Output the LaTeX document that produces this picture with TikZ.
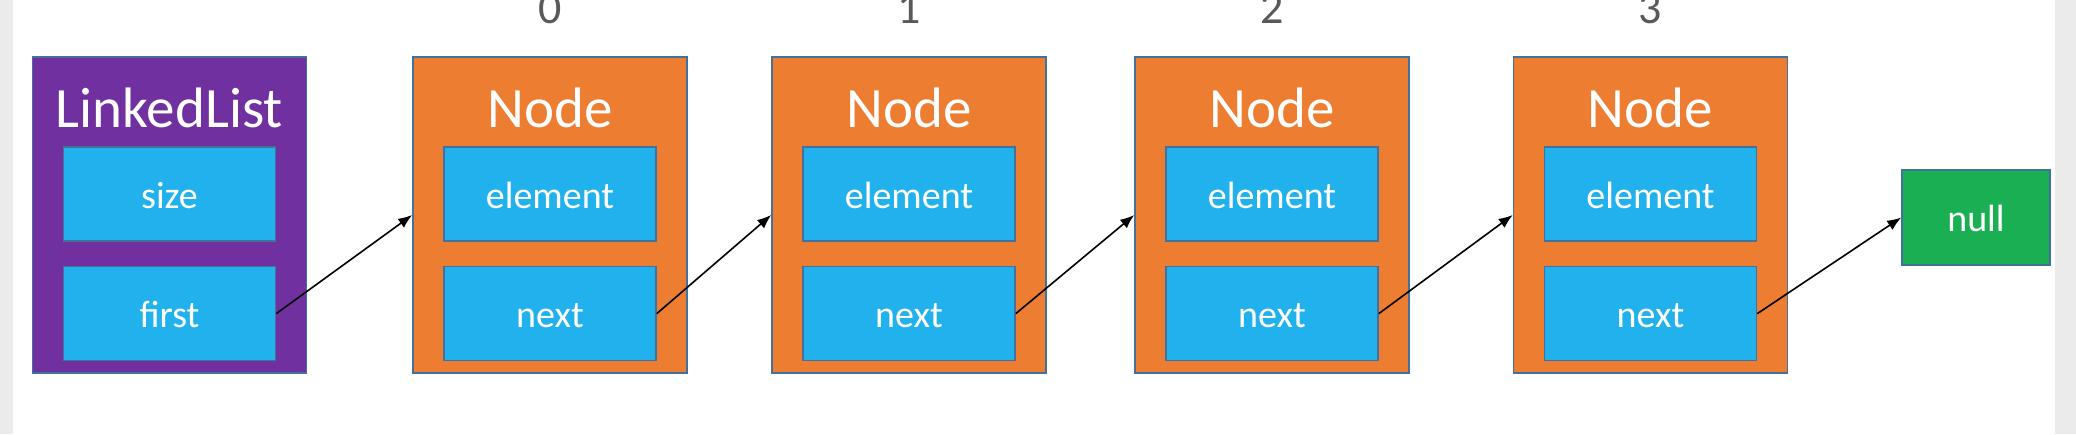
\documentclass[tikz,border=0pt]{standalone}
\usepackage{fontspec}
\setmainfont{Carlito}
\usetikzlibrary{positioning,arrows.meta}

\definecolor{listpurple}{HTML}{7030A0}
\definecolor{nodeorange}{HTML}{ED7D31}
\definecolor{fieldblue}{HTML}{21B1EC}
\definecolor{nullgreen}{HTML}{1BAF53}
\definecolor{boxline}{HTML}{41719C}
\definecolor{idxgray}{HTML}{595959}
\definecolor{margingray}{HTML}{EBEBEB}

\tikzset{
  outerbox/.style={draw=boxline,line width=0.8pt,minimum width=137pt,minimum height=158pt,inner sep=0pt},
  fieldbox/.style={draw=boxline,line width=0.8pt,fill=fieldblue,minimum width=106pt,minimum height=47pt,
    inner sep=0pt,text=white,font=\fontsize{19}{19}\selectfont,text height=14pt,text depth=0pt},
  titletext/.style={text=white,font=\fontsize{28.5}{28.5}\selectfont,anchor=base,inner sep=0pt},
  indextext/.style={text=idxgray,font=\fontsize{23}{23}\selectfont,anchor=base,inner sep=0pt},
  ptr/.style={-{Latex[length=7pt,width=5.5pt]},line width=0.8pt}
}

\begin{document}
\begin{tikzpicture}[x=0.5pt,y=-0.5pt]

\fill[margingray] (0,0) rectangle (13,434);
\fill[margingray] (2055,0) rectangle (2076,434);
\useasboundingbox (0,0) rectangle (2076,434);

% the list object
\node[outerbox,fill=listpurple] (list) at (169.5,215) {};
\node[titletext] (listtitle) at (169.5,127) {LinkedList};
\node[fieldbox,below=45pt of list.north] (size) {size};
\node[fieldbox,below=12pt of size] (first) {first};

% the nodes
\foreach \i/\cx in {0/550,1/909,2/1272,3/1650.5} {
  \node[outerbox,fill=nodeorange] (n\i) at (\cx,215) {};
  \node[titletext] (t\i) at (\cx,127) {Node};
  \node[indextext] (k\i) at (\cx,23) {\i};
  \node[fieldbox,below=45pt of n\i.north] (e\i) {element};
  \node[fieldbox,below=12pt of e\i] (x\i) {next};
}

\node[fieldbox,fill=nullgreen,minimum width=74pt,minimum height=47.5pt] (null) at (1976,217.5) {null};

\draw[ptr] (first.east) -- (n0.west);
\foreach \i/\j in {0/1,1/2,2/3}
  \draw[ptr] (x\i.east) -- (n\j.west);
\draw[ptr] (x3.east) -- (null.west);

\end{tikzpicture}
\end{document}
